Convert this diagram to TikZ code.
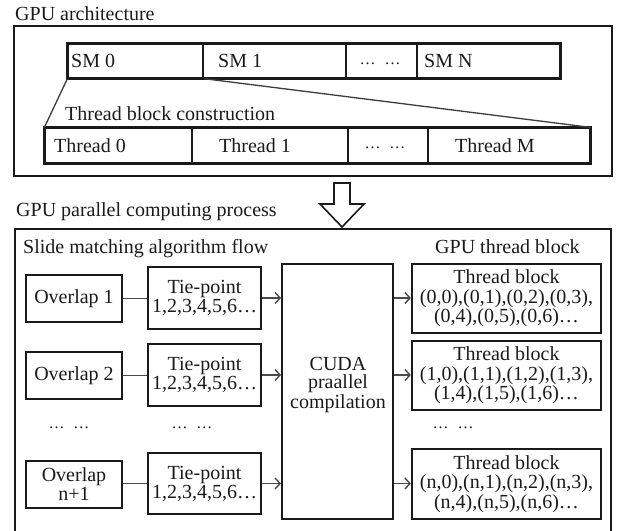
\documentclass[tikz,border=0pt]{standalone}
\usepackage{fontspec}
\setmainfont{Liberation Serif}
\usetikzlibrary{arrows.meta}
\definecolor{ink}{HTML}{1A1A1A}
\definecolor{conn}{HTML}{4A4A4A}
\newcommand\dotgroup{{\fontsize{16}{16}\selectfont…\hspace{9pt}…}}
\begin{document}
\begin{tikzpicture}[x=1pt,y=-1pt,
  font=\fontsize{20}{18}\selectfont, text=ink,
  lbl/.style={anchor=base west,inner sep=0pt},
  dotlbl/.style={anchor=base,inner sep=0pt},
  frame/.style={draw=ink,line width=1.8pt,inner sep=0pt},
  cell/.style={draw=ink,line width=1.2pt,inner sep=0pt},
  box/.style={draw=ink,line width=2.2pt,inner sep=0pt,align=center},
  diag/.style={draw=ink!85,line width=1.3pt},
  conn/.style={draw=conn,line width=1.4pt},
  connarrow/.style={draw=conn,line width=1.4pt,-{Straight Barb[length=5pt,width=11pt]}}]
\useasboundingbox (0,0) rectangle (617,530);

% ---------- GPU architecture ----------
\node[lbl] (t1) at (15,20) {GPU architecture};
\node[frame,minimum width=598pt,minimum height=150pt] (outer1) at (313,101) {};

\node[cell,minimum width=135pt,minimum height=34pt] (sm0) at (135.5,61) {};
\node[cell,minimum width=143pt,minimum height=34pt] (sm1) at (274.5,61) {};
\node[cell,minimum width=71pt,minimum height=34pt] (smd) at (381.5,61) {};
\node[cell,minimum width=143pt,minimum height=34pt] (smn) at (488.5,61) {};
\draw[draw=ink,line width=2.3pt] (sm0.north west) rectangle (smn.south east);
\node[lbl] (sm0t) at (71,67) {SM 0};
\node[lbl] (sm1t) at (218,67) {SM 1};
\node[dotlbl] (smdt) at (380,64.5) {\dotgroup};
\node[lbl] (smnt) at (424,67) {SM N};

\node[lbl] (tbc) at (65,120) {Thread block construction};

\node[cell,minimum width=147pt,minimum height=35pt] (th0) at (118.5,145.5) {};
\node[cell,minimum width=156pt,minimum height=35pt] (th1) at (270,145.5) {};
\node[cell,minimum width=80pt,minimum height=35pt] (thd) at (388,145.5) {};
\node[cell,minimum width=162pt,minimum height=35pt] (thm) at (509,145.5) {};
\draw[draw=ink,line width=2.3pt] (th0.north west) rectangle (thm.south east);
\node[lbl] (th0t) at (54,152) {Thread 0};
\node[lbl] (th1t) at (219,152) {Thread 1};
\node[dotlbl] (thdt) at (385,148) {\dotgroup};
\node[lbl] (thmt) at (455,152) {Thread M};

\draw[diag] (sm0.south west) -- (th0.north west);
\draw[diag] (sm0.south east) -- (thm.north east);

% ---------- hollow arrow ----------
\draw[draw=ink,line width=1.6pt,fill=white,line join=miter]
  (334,183) -- (350,183) -- (350,204) -- (364,204) -- (342,227) -- (320,204) -- (334,204) -- cycle;

% ---------- GPU parallel computing process ----------
\node[lbl] (t2) at (16,216) {GPU parallel computing process};
\draw[draw=ink,line width=1.8pt] (15,229) rectangle (611,536);
\node[lbl] (t3) at (23,253) {Slide matching algorithm flow};
\node[lbl] (t4) at (435,253) {GPU thread block};

\node[box,minimum width=96pt,minimum height=47pt] (ov1) at (74,298.5) {Overlap 1};
\node[box,minimum width=96pt,minimum height=47pt] (ov2) at (74,375.5) {Overlap 2};
\node[box,minimum width=96pt,minimum height=47pt,font=\fontsize{20}{19}\selectfont] (ov3) at (74,484.5) {Overlap\\n+1};

\node[box,minimum width=113pt,minimum height=62pt,font=\fontsize{20}{19}\selectfont] (tie1) at (204.5,298) {Tie-point\\1,2,3,4,5,6…};
\node[box,minimum width=113pt,minimum height=62pt,font=\fontsize{20}{19}\selectfont] (tie2) at (204.5,375) {Tie-point\\1,2,3,4,5,6…};
\node[box,minimum width=113pt,minimum height=61pt,font=\fontsize{20}{19}\selectfont] (tie3) at (204.5,483.5) {Tie-point\\1,2,3,4,5,6…};

\node[box,line width=2pt,minimum width=111pt,minimum height=255pt] (cuda) at (337.5,391.5) {};
\node[inner sep=0pt,align=center] (cudat) at (338,385) {CUDA\\praallel\\compilation};

\node[box,minimum width=189pt,minimum height=69pt,font=\fontsize{20}{19.5}\selectfont] (tb1) at (506.5,298.5)
  {Thread block\\(0,0),(0,1),(0,2),(0,3),\\(0,4),(0,5),(0,6)…};
\node[box,minimum width=189pt,minimum height=69pt,font=\fontsize{20}{19.5}\selectfont] (tb2) at (506.5,375.5)
  {Thread block\\(1,0),(1,1),(1,2),(1,3),\\(1,4),(1,5),(1,6)…};
\node[box,minimum width=189pt,minimum height=70pt,font=\fontsize{20}{19.5}\selectfont] (tb3) at (506.5,484)
  {Thread block\\(n,0),(n,1),(n,2),(n,3),\\(n,4),(n,5),(n,6)…};

\node[dotlbl] (d1) at (69,428.5) {\dotgroup};
\node[dotlbl] (d2) at (192,428.5) {\dotgroup};
\node[dotlbl] (d3) at (453,428.5) {\dotgroup};

% connectors
\draw[conn] (ov1.east) -- (ov1.east -| tie1.west);
\draw[conn] (ov2.east) -- (ov2.east -| tie2.west);
\draw[conn] (ov3.east |- tie3.east) -- (tie3.west);
\draw[connarrow] (tie1.east) -- (tie1.east -| cuda.west);
\draw[connarrow] (tie2.east) -- (tie2.east -| cuda.west);
\draw[connarrow] (tie3.east) -- (tie3.east -| cuda.west);
\draw[connarrow] (tie1.east -| cuda.east) -- (tie1.east -| tb1.west);
\draw[connarrow] (tie2.east -| cuda.east) -- (tie2.east -| tb2.west);
\draw[connarrow] (tie3.east -| cuda.east) -- (tie3.east -| tb3.west);
\end{tikzpicture}
\end{document}
